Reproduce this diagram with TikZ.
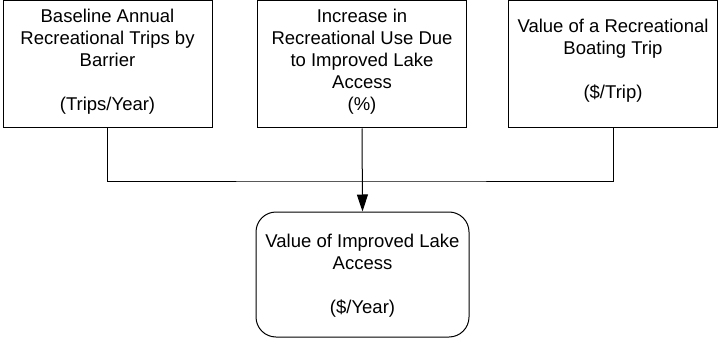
\documentclass[tikz,border=0pt]{standalone}
\usepackage{fontspec}
\setmainfont{Liberation Sans}
\usetikzlibrary{arrows.meta}
\begin{document}
\begin{tikzpicture}[x=1pt,y=-1pt,
  box/.style={draw=black,line width=1pt,minimum width=209pt,minimum height=127pt,inner sep=0pt},
  rbox/.style={draw=black,line width=1pt,minimum width=213pt,minimum height=125pt,inner sep=0pt,rounded corners=20pt},
  txt/.style={align=center,inner sep=0pt,font=\fontsize{18.5}{22}\selectfont,anchor=north},
  conn/.style={draw=black,line width=1pt}]
\useasboundingbox (0,0) rectangle (719,339);
\node[box] (b1) at (107.5,64.5) {};
\node[box] (b2) at (362,64.5) {};
\node[box] (b3) at (613,64.5) {};
\node[rbox] (b4) at (362.5,274.5) {};
\node[txt] (t1) at (107.5,9) {Baseline Annual\\Recreational Trips by\\Barrier\\[22pt](Trips/Year)};
\node[txt] (t2) at (362,9) {Increase in\\Recreational Use Due\\to Improved Lake\\Access\\(\%)};
\node[txt] (t3) at (613,19) {Value of a Recreational\\Boating Trip\\[22pt](\$/Trip)};
\node[txt] (t4) at (362.5,234) {Value of Improved Lake\\Access\\[22pt](\$/Year)};
\coordinate (j) at (362,181);
\draw[conn] (b1.south) |- (j) -| (b3.south);
\draw[conn,-{Triangle[length=17pt,width=11pt]}] (b2.south) -- (b4.north);
\end{tikzpicture}
\end{document}
